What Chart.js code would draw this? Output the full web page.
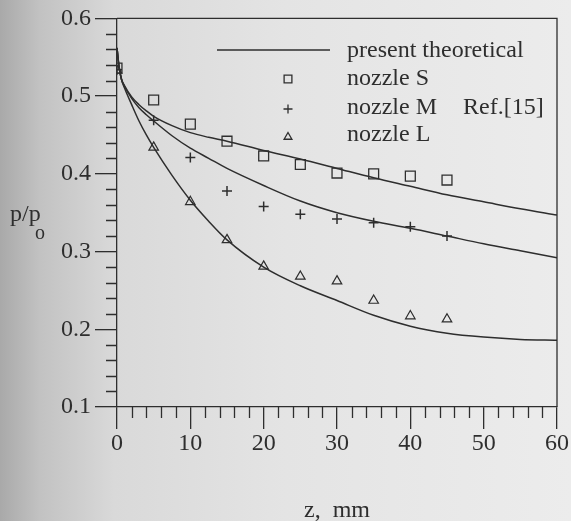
<!DOCTYPE html>
<html>
<head>
<meta charset="utf-8">
<script src="https://cdn.jsdelivr.net/npm/chart.js@4.4.0/dist/chart.umd.min.js"></script>
<style>
    html, body { margin: 0; padding: 0; background: #dedede; }
    #wrap { width: 571px; height: 521px; position: relative; }
</style>
</head>
<body>
<div id="wrap"><canvas id="myChart"></canvas></div>
<script>
// measured points (Ref.[15])
const zMeasured = [0, 5, 10, 15, 20, 25, 30, 35, 40, 45]
const nozzleS = [0.536, 0.495, 0.464, 0.442, 0.423, 0.412, 0.401, 0.400, 0.397, 0.392]
const nozzleM = [0.534, 0.469, 0.421, 0.378, 0.358, 0.348, 0.342, 0.337, 0.332, 0.320]
const nozzleL = [0.533, 0.434, 0.364, 0.315, 0.281, 0.268, 0.262, 0.237, 0.217, 0.213]

// present theoretical curves
const zTheory = [0, 0.25, 0.6, 1, 2, 3, 4, 5, 7.5, 10, 12.5, 15, 20, 25, 30, 35, 40, 45, 50, 55, 60]
const theoryS = [0.562, 0.540, 0.522, 0.514, 0.499, 0.489, 0.481, 0.474, 0.462, 0.453, 0.447, 0.442, 0.430, 0.419, 0.407, 0.395, 0.384, 0.373, 0.364, 0.355, 0.347]
const theoryM = [0.562, 0.540, 0.522, 0.513, 0.497, 0.485, 0.476, 0.468, 0.449, 0.433, 0.420, 0.407, 0.385, 0.365, 0.350, 0.339, 0.330, 0.320, 0.310, 0.301, 0.292]
const theoryL = [0.562, 0.540, 0.522, 0.511, 0.489, 0.468, 0.450, 0.434, 0.398, 0.366, 0.339, 0.315, 0.280, 0.256, 0.237, 0.218, 0.204, 0.195, 0.190, 0.187, 0.186]

const xTicks = [0, 10, 20, 30, 40, 50, 60]
const yTicks = [0.1, 0.2, 0.3, 0.4, 0.5, 0.6]
const xMinor = 2
const yMinor = 0.02

const INK = '#2e2e2e'
const SERIF = "'Liberation Serif', 'DejaVu Serif', serif"

const pairs = (xs, ys) => xs.map((x, i) => ({ x: x, y: ys[i] }))

const paper = {
    id: 'paper',
    beforeDraw(chart) {
        const ctx = chart.ctx
        const g = ctx.createLinearGradient(0, 0, chart.width, 0)
        g.addColorStop(0, '#a9a9a9')
        g.addColorStop(0.07, '#c2c2c2')
        g.addColorStop(0.2, '#d9d9d9')
        g.addColorStop(0.5, '#e4e4e4')
        g.addColorStop(1, '#ececec')
        ctx.save()
        ctx.fillStyle = g
        ctx.fillRect(0, 0, chart.width, chart.height)
        ctx.restore()
    }
}

const extras = {
    id: 'extras',
    afterDraw(chart) {
        const ctx = chart.ctx
        const a = chart.chartArea
        const xs = chart.scales.x
        const ys = chart.scales.y
        ctx.save()
        ctx.strokeStyle = INK
        ctx.lineWidth = 1.3
        // frame top + right
        ctx.beginPath()
        ctx.moveTo(a.left, a.top)
        ctx.lineTo(a.right, a.top)
        ctx.lineTo(a.right, a.bottom)
        ctx.stroke()
        // minor ticks
        ctx.beginPath()
        for (let v = xs.min; v <= xs.max + 1e-9; v += xMinor) {
            if (Math.abs(v / 10 - Math.round(v / 10)) < 1e-6) continue
            const px = Math.round(xs.getPixelForValue(v)) + 0.5
            ctx.moveTo(px, a.bottom)
            ctx.lineTo(px, a.bottom + 11)
        }
        for (let v = ys.min; v <= ys.max + 1e-9; v += yMinor) {
            if (Math.abs(v * 10 - Math.round(v * 10)) < 1e-6) continue
            const py = Math.round(ys.getPixelForValue(v)) + 0.5
            ctx.moveTo(a.left - 11, py)
            ctx.lineTo(a.left, py)
        }
        ctx.stroke()

        ctx.fillStyle = INK
        ctx.textBaseline = 'middle'
        // x axis title
        ctx.textAlign = 'center'
        ctx.font = '24px ' + SERIF
        ctx.fillText('z,  mm', (a.left + a.right) / 2, 511)
        // y axis label p/p_o
        ctx.textAlign = 'left'
        ctx.fillText('p/p', 10, 215)
        ctx.font = '20px ' + SERIF
        ctx.fillText('o', 35, 234)

        // legend
        ctx.font = '24px ' + SERIF
        ctx.beginPath()
        ctx.moveTo(217, 50)
        ctx.lineTo(330, 50)
        ctx.stroke()
        ctx.fillText('present theoretical', 347, 51)
        ctx.fillText('nozzle S', 347, 79)
        ctx.fillText('nozzle M', 347, 108)
        ctx.fillText('Ref.[15]', 463, 108)
        ctx.fillText('nozzle L', 347, 135)
        ctx.fillStyle = 'rgba(0,0,0,0)'
        ctx.lineWidth = 1.3
        Chart.helpers.drawPoint(ctx, { pointStyle: 'rect', radius: 5.5, rotation: 0, borderWidth: 1.3 }, 288, 79)
        Chart.helpers.drawPoint(ctx, { pointStyle: 'cross', radius: 4.5, rotation: 0, borderWidth: 1.5 }, 288, 109)
        Chart.helpers.drawPoint(ctx, { pointStyle: 'triangle', radius: 4.5, rotation: 0, borderWidth: 1.2 }, 288, 137)
        ctx.restore()
    }
}

const lineSet = (ys) => ({
    data: pairs(zTheory, ys),
    showLine: true,
    pointRadius: 0,
    borderColor: INK,
    borderWidth: 1.5,
    cubicInterpolationMode: 'monotone',
    fill: false
})

const markSet = (ys, style, r, w) => ({
    data: pairs(zMeasured, ys),
    showLine: false,
    pointStyle: style,
    pointRadius: r,
    pointBorderWidth: w,
    borderColor: INK,
    backgroundColor: 'rgba(0,0,0,0)'
})

var ctx = document.getElementById('myChart')
var myChart = new Chart(ctx, {
    type: 'scatter',
    data: {
        datasets: [
            lineSet(theoryS),
            lineSet(theoryM),
            lineSet(theoryL),
            markSet(nozzleS, 'rect', 7, 1.3),
            markSet(nozzleM, 'cross', 5, 1.5),
            markSet(nozzleL, 'triangle', 5.5, 1.2)
        ]
    },
    options: {
        responsive: true,
        maintainAspectRatio: false,
        animation: false,
        layout: { padding: { left: 0, top: 17, right: 14, bottom: 0 } },
        plugins: {
            legend: { display: false },
            tooltip: { enabled: false }
        },
        scales: {
            x: {
                type: 'linear',
                min: 0,
                max: 60,
                afterFit: (s) => { s.height = 114 },
                afterBuildTicks: (s) => { s.ticks = xTicks.map(v => ({ value: v })) },
                grid: { drawOnChartArea: false, drawTicks: true, tickLength: 22, color: INK, lineWidth: 1.3 },
                border: { display: true, color: INK, width: 1.3 },
                ticks: { color: INK, padding: 0, font: { family: SERIF, size: 24 }, maxRotation: 0 }
            },
            y: {
                type: 'linear',
                min: 0.1,
                max: 0.6,
                afterFit: (s) => { s.width = 117 },
                afterBuildTicks: (s) => { s.ticks = yTicks.map(v => ({ value: v })) },
                grid: { drawOnChartArea: false, drawTicks: true, tickLength: 22, color: INK, lineWidth: 1.3 },
                border: { display: true, color: INK, width: 1.3 },
                ticks: { color: INK, padding: 4, font: { family: SERIF, size: 24 }, callback: (v) => Number(v).toFixed(1) }
            }
        }
    },
    plugins: [paper, extras]
})
</script>
</body>
</html>
